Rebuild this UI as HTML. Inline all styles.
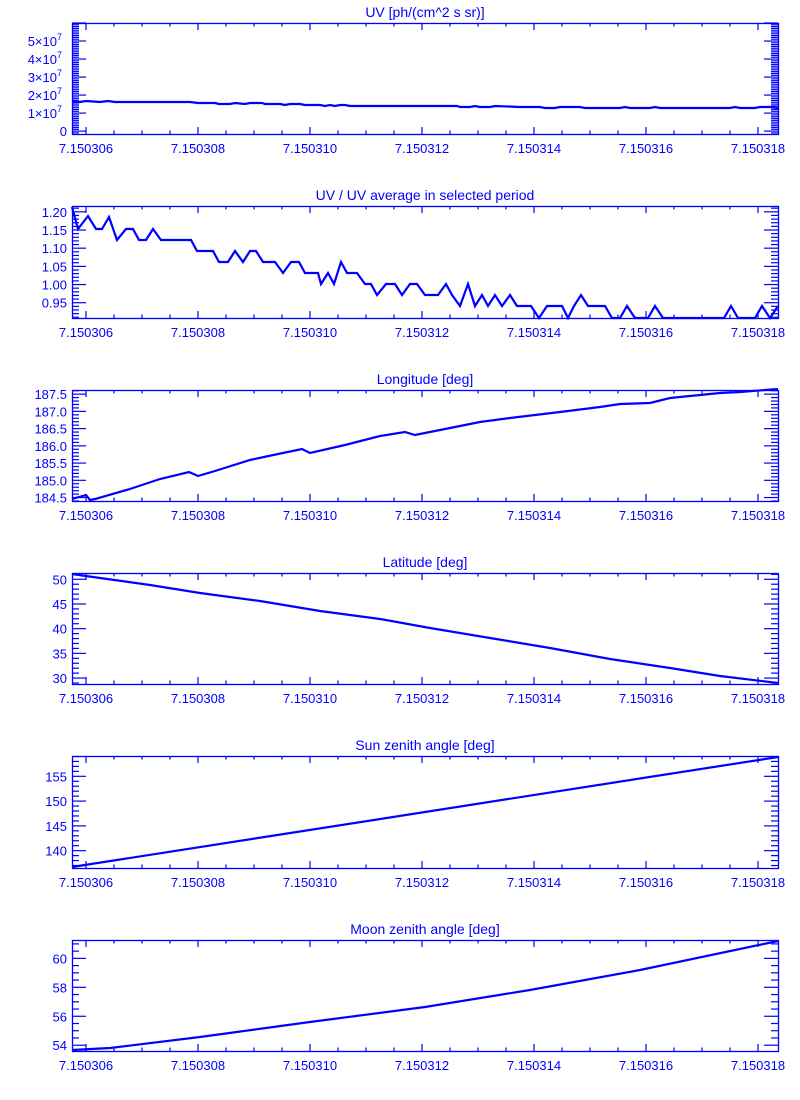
<!DOCTYPE html>
<html><head><meta charset="utf-8"><style>
html,body{margin:0;padding:0;background:#fff;}
svg{display:block;}
text{font-family:"Liberation Sans","DejaVu Sans",sans-serif;fill:#0000ff;}
</style></head><body>
<svg id="s" width="800" height="1100" xmlns="http://www.w3.org/2000/svg"></svg>
<script>
var S=document.getElementById('s');var NS='http://www.w3.org/2000/svg';
function el(n,a,t){var e=document.createElementNS(NS,n);for(var k in a)e.setAttribute(k,a[k]);if(t!==undefined)e.textContent=t;S.appendChild(e);return e;}
var L=72,R=778,B='#0000ff';
var panels=[
{top:23,bot:134,title:'UV [ph/(cm^2 s sr)]',v0:-1.6e6,v1:6e7,major:1e7,minor:1e6,fmt:function(v){return v==0?'0':null;},exp:true,show:function(v){return v<5.5e7;},
 data:[[72,102],[80,102],[86,101],[100,102],[108,101],[115,102],[190,102],[198,103],[215,103],[219,104],[230,104],[235,103],[245,104],[250,103],[262,103],[265,104],[280,104],[285,105],[290,104],[300,104],[305,105],[320,105],[325,106],[330,105],[335,106],[340,105],[345,105],[350,106],[380,106],[457,106],[460,107],[470,107],[475,106],[480,107],[490,107],[495,106],[520,107],[540,107],[545,108],[555,108],[560,107],[580,107],[585,108],[600,108],[620,108],[625,107],[630,108],[650,108],[655,107],[660,108],[730,108],[735,107],[740,108],[755,108],[760,107],[770,107],[778,108]]},
{top:206,bot:318,title:'UV / UV average in selected period',v0:0.908,v1:1.216,major:0.05,minor:0.01,fmt:function(v){return v.toFixed(2);},show:function(v){return v>=0.94;},
 data:[[72,207],[78,229],[88,216],[96,229],[102,229],[109,217],[117,240],[126,229],[133,229],[139,240],[146,240],[153,229],[161,240],[191,240],[197,251],[213,251],[219,262],[228,262],[235,251],[243,262],[250,251],[256,251],[263,262],[275,262],[283,273],[291,262],[299,262],[305,273],[318,273],[321,284],[328,273],[334,284],[341,262],[347,273],[357,273],[365,284],[371,284],[377,295],[386,284],[395,284],[402,295],[410,284],[417,284],[425,295],[438,295],[446,284],[452,295],[460,306],[468,284],[475,306],[482,295],[488,306],[495,295],[502,306],[510,295],[517,306],[531,306],[539,318],[547,306],[562,306],[568,318],[574,306],[581,295],[588,306],[605,306],[612,318],[620,318],[627,306],[635,318],[648,318],[655,306],[663,318],[724,318],[731,306],[738,318],[755,318],[762,306],[770,318],[778,306]]},
{top:390,bot:501,title:'Longitude [deg]',v0:184.4,v1:187.62,major:0.5,minor:0.1,fmt:function(v){return v.toFixed(1);},
 data:[[72,499],[86,495],[90,500],[95,499],[130,489],[160,479],[189,472],[198,476],[215,471],[250,460],[278,454],[302,449],[310,453],[345,445],[380,436],[405,432],[415,435],[440,430],[480,422],[510,418],[560,412],[600,407],[620,404],[650,403],[670,398],[720,393],[740,392],[778,389]]},
{top:573,bot:684,title:'Latitude [deg]',v0:28.8,v1:51.27,major:5,minor:1,fmt:function(v){return v.toFixed(0);},
 data:[[72,574],[100,578],[150,585],[200,593],[260,601],[320,611],[380,619],[430,628],[490,638],[550,648],[610,659],[670,668],[720,676],[778,683]]},
{top:756,bot:868,title:'Sun zenith angle [deg]',v0:136.5,v1:159.1,major:5,minor:1,fmt:function(v){return v.toFixed(0);},
 data:[[72,867],[778,757]]},
{top:940,bot:1051,title:'Moon zenith angle [deg]',v0:53.6,v1:61.27,major:2,minor:0.5,fmt:function(v){return v.toFixed(0);},
 data:[[72,1050],[110,1048],[200,1037],[310,1022],[425,1007],[530,990],[640,970],[778,941]]}
];
panels.forEach(function(p){
  var t=p.top,b=p.bot;
  el('rect',{x:L+0.5,y:t+0.5,width:R-L,height:b-t,fill:'none',stroke:B,'stroke-width':1.3});
  el('text',{x:425,y:t-6,'text-anchor':'middle','font-size':14},p.title);
  for(var i=0;i<=25;i++){var x=86+i*28;if(x>R)break;var maj=(i%4==0);var len=maj?7:3.5;
    el('line',{x1:x,x2:x,y1:b,y2:b-len,stroke:B,'stroke-width':1.2});
    el('line',{x1:x,x2:x,y1:t,y2:t+len,stroke:B,'stroke-width':1.2});
    if(maj){el('text',{x:x,y:b+19,'text-anchor':'middle','font-size':13},'7.1503'+(('0'+(6+i/2)).slice(-2)));}}
  var sc=(b-t)/(p.v1-p.v0);
  var n0=Math.ceil(p.v0/p.minor-1e-6),n1=Math.floor(p.v1/p.minor+1e-6);
  var r=Math.round(p.major/p.minor);
  for(var n=n0;n<=n1;n++){var v=n*p.minor;var y=b-(v-p.v0)*sc;var maj=(((n%r)+r)%r==0);var len=maj?14:7;
    el('line',{x1:L,x2:L+len,y1:y,y2:y,stroke:B,'stroke-width':1.2});
    el('line',{x1:R,x2:R-len,y1:y,y2:y,stroke:B,'stroke-width':1.2});
    if(maj){ if(p.show&&!p.show(v))continue;
      if(p.exp&&Math.abs(v)>1){el('text',{x:57,y:y+5,'text-anchor':'end','font-size':13},Math.round(v/1e7)+'×10');
        el('text',{x:57,y:y-1,'font-size':9},'7');}
      else el('text',{x:67,y:y+5,'text-anchor':'end','font-size':13},p.fmt(v));}}
  var pts=p.data.map(function(q){return q[0]+','+q[1];}).join(' ');
  el('polyline',{points:pts,fill:'none',stroke:B,'stroke-width':2.2,'stroke-linejoin':'miter'});
});
</script>
</body></html>
